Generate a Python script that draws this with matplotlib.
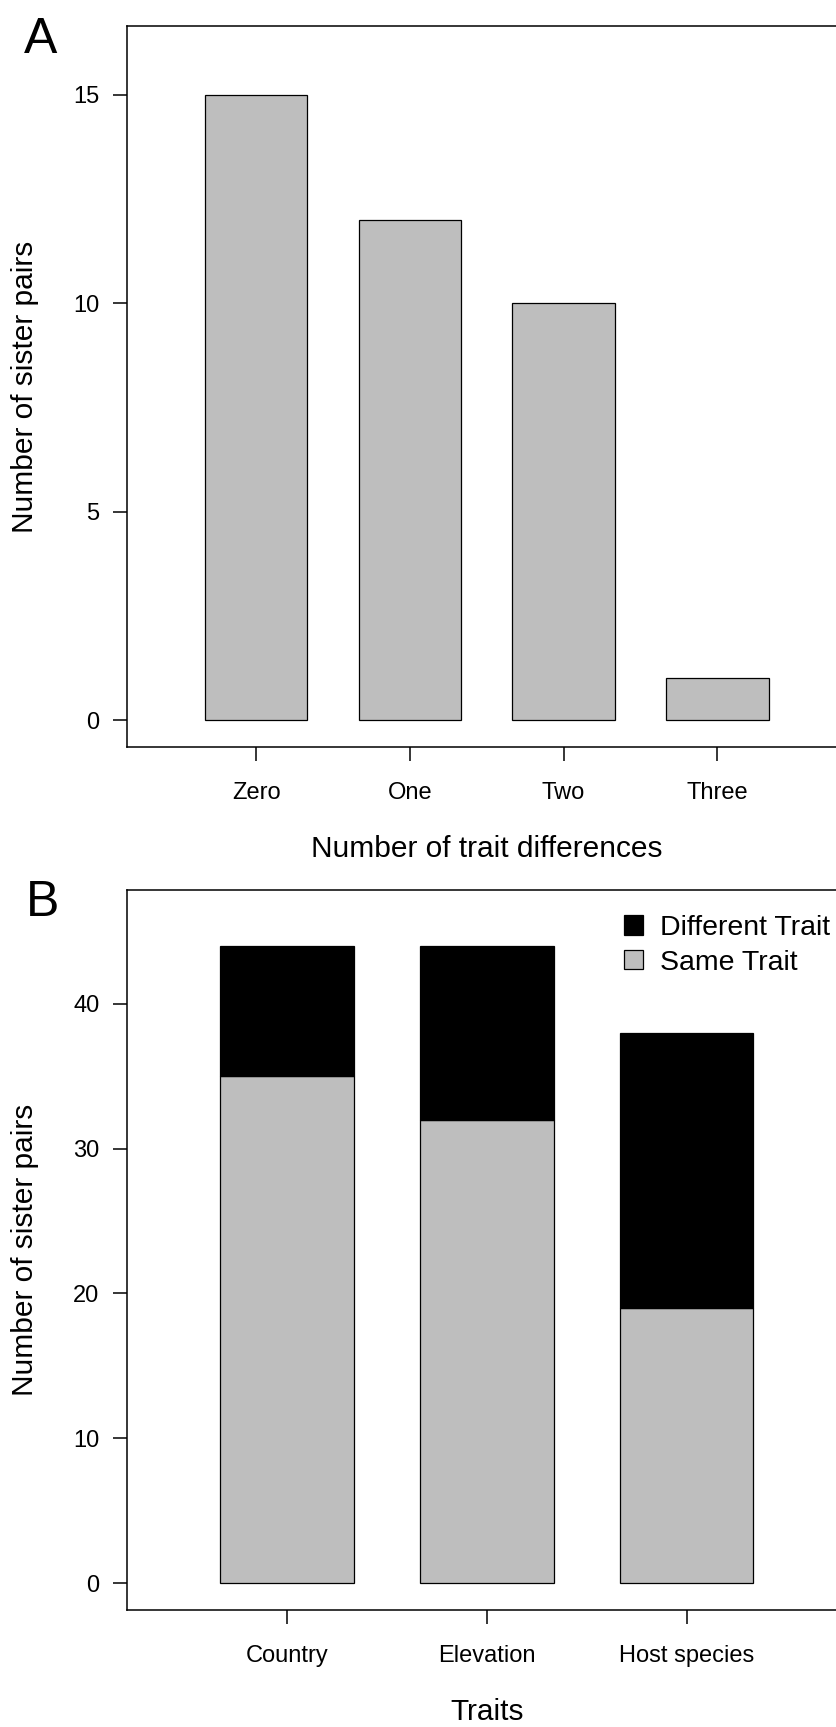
import matplotlib
matplotlib.use("Agg")
import matplotlib.pyplot as plt
from matplotlib.patches import Patch
import numpy as np

plt.rcParams['font.family'] = ['Liberation Sans', 'DejaVu Sans']

# ---------------- data ----------------
diff_labels = ["Zero", "One", "Two", "Three"]
diff_counts = [15, 12, 10, 1]

trait_labels = ["Country", "Elevation", "Host species"]
same_trait = [35, 32, 19]
different_trait = [9, 12, 19]

yticks_a = [0, 5, 10, 15]
yticks_b = [0, 10, 20, 30, 40]

# ---------------- figure ----------------
W, H = 837, 1727
DPI = 100
fig = plt.figure(figsize=(W / DPI, H / DPI), dpi=DPI)

GREY = "#BEBEBE"
TICK_FS = 17
LAB_FS = 21.5
LEG_FS = 20.5
LET_FS = 36
LW = 1.1


def px_axes(left, top, right, bottom):
    return fig.add_axes([left / W, 1 - bottom / H, (right - left) / W, (bottom - top) / H])


def style(ax):
    for s in ax.spines.values():
        s.set_linewidth(LW)
    ax.tick_params(axis='both', length=10, width=LW, labelsize=TICK_FS, direction='out')
    ax.tick_params(axis='y', pad=9.5)
    ax.tick_params(axis='x', pad=27.5)


# ---------------- panel A ----------------
axA = px_axes(126.7, 26.4, 899.8, 746.7)
xa = 1 + 1.5 * np.arange(len(diff_counts))
axA.bar(xa, diff_counts, width=1.0, color=GREY, edgecolor='black', linewidth=0.9)
axA.set_xlim(-0.262, 7.28)
axA.set_ylim(-0.64, 16.64)
axA.set_yticks(yticks_a)
axA.set_yticklabels([str(v) for v in yticks_a])
axA.set_xticks(xa)
axA.set_xticklabels(diff_labels)
style(axA)
for lab in axA.get_xticklabels():
    lab.set_va('baseline')
fig.text(487 / W, 1 - 856.7 / H, "Number of trait differences",
         ha='center', va='baseline', fontsize=LAB_FS)
fig.text(25 / W, 1 - 386.5 / H, "Number of sister pairs", rotation=90,
         ha='center', va='center', fontsize=LAB_FS)
fig.text(24 / W, 1 - 52.9 / H, "A", ha='left', va='baseline', fontsize=LET_FS)

# ---------------- panel B ----------------
axB = px_axes(126.7, 889.9, 846.8, 1610.1)
xb = 1 + 1.5 * np.arange(len(trait_labels))
axB.bar(xb, same_trait, width=1.0, color=GREY, edgecolor='black', linewidth=0.9)
axB.bar(xb, different_trait, width=1.0, bottom=same_trait, color='black',
        edgecolor='black', linewidth=0.9)
axB.set_xlim(-0.202, 5.2)
axB.set_ylim(-1.84, 47.84)
axB.set_yticks(yticks_b)
axB.set_yticklabels([str(v) for v in yticks_b])
axB.set_xticks(xb)
axB.set_xticklabels(trait_labels)
style(axB)
for lab in axB.get_xticklabels():
    lab.set_va('baseline')
fig.text(487 / W, 1 - 1720.3 / H, "Traits", ha='center', va='baseline', fontsize=LAB_FS)
fig.text(25 / W, 1 - 1250 / H, "Number of sister pairs", rotation=90,
         ha='center', va='center', fontsize=LAB_FS)
fig.text(26 / W, 1 - 916 / H, "B", ha='left', va='baseline', fontsize=LET_FS)

handles = [Patch(facecolor='black', edgecolor='black', linewidth=0.9, label="Different Trait"),
           Patch(facecolor=GREY, edgecolor='black', linewidth=0.9, label="Same Trait")]
axB.legend(handles=handles, loc='upper left', bbox_to_anchor=(624 / W, 1 - 915 / H),
           bbox_transform=fig.transFigure, frameon=False, fontsize=LEG_FS,
           borderpad=0, borderaxespad=0, handlelength=0.65, handleheight=0.65,
           handletextpad=0.6, labelspacing=0.31)

fig.savefig("out.png", dpi=DPI)
